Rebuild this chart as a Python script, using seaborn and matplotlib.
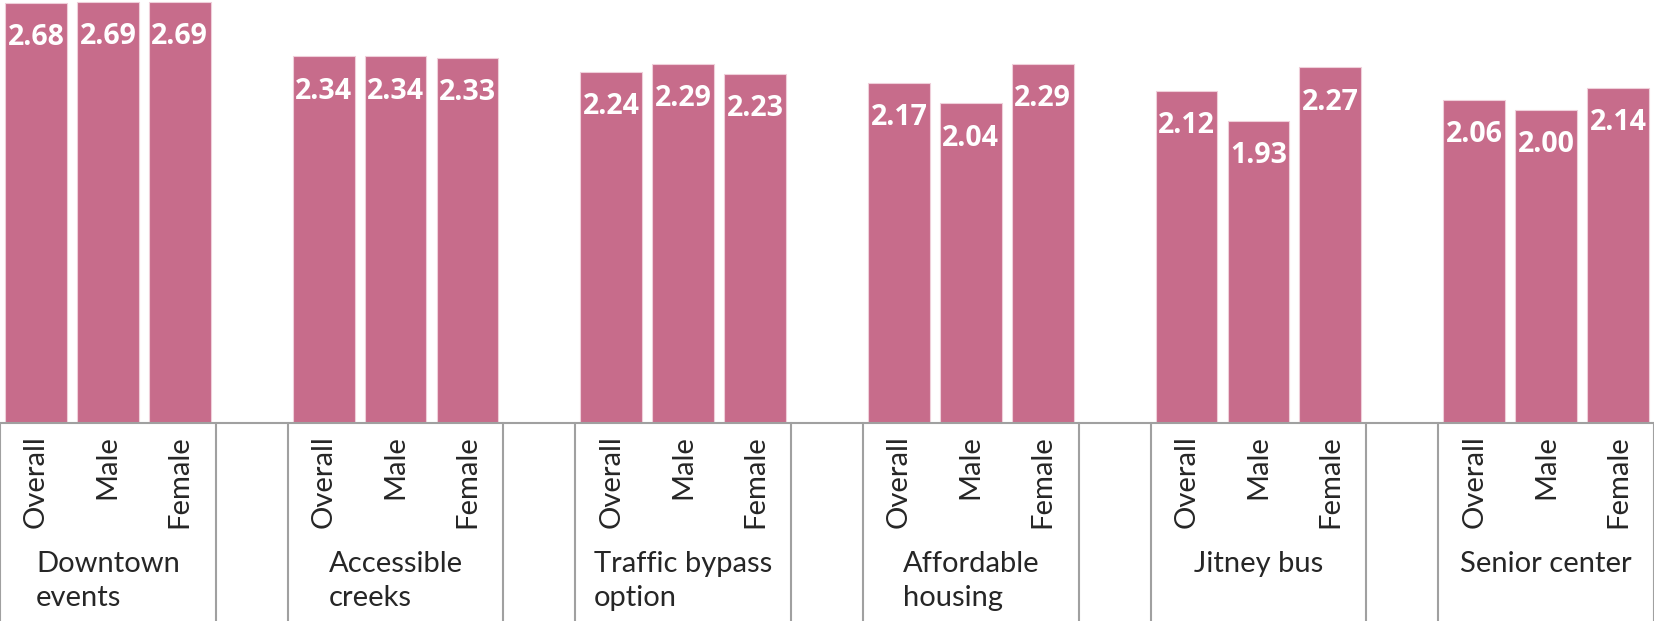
import matplotlib
matplotlib.use("Agg")
import matplotlib.pyplot as plt
import matplotlib.transforms as mtransforms
import seaborn as sns
import pandas as pd

# Chart data
groups = ["Downtown\nevents", "Accessible\ncreeks", "Traffic bypass\noption",
          "Affordable\nhousing", "Jitney bus", "Senior center"]
subgroups = ["Overall", "Male", "Female"]
overall = [2.68, 2.34, 2.24, 2.17, 2.12, 2.06]
male = [2.69, 2.34, 2.29, 2.04, 1.93, 2.00]
female = [2.69, 2.33, 2.23, 2.29, 2.27, 2.14]

bar_color = "#C76C8B"
line_color = "#A0A0A0"

# Long-form table; an empty slot between groups gives the gap
rows = []
order = []
for i, g in enumerate(groups):
    for s, vals in zip(subgroups, [overall, male, female]):
        key = f"{i}-{s}"
        rows.append({"slot": key, "score": vals[i]})
        order.append(key)
    if i < len(groups) - 1:
        order.append(f"{i}-gap")
df = pd.DataFrame(rows)

sns.set_style("white")
plt.rcParams["font.family"] = ["Lato", "DejaVu Sans"]

fig = plt.figure(figsize=(16.54, 6.21), dpi=100)
ax_h = 423 / 621
ax = fig.add_axes([0, 1 - ax_h, 1, ax_h])

sns.barplot(data=df, x="slot", y="score", order=order, color=bar_color,
            saturation=1, width=0.86, errorbar=None,
            edgecolor="#EFCFDA", linewidth=0.8, ax=ax)

# White value labels inside the top of each bar
for c in ax.containers:
    labels = ax.bar_label(c, fmt="%.2f", padding=-25, color="white",
                          fontsize=20.5, fontweight="bold",
                          family=["Open Sans", "DejaVu Sans"])
    for t in labels:
        t.set_va("center")

ax.set_xlim(-0.5, len(order) - 0.5)
ax.set_ylim(0, 2.70)
ax.set_yticks([])
ax.set_xlabel("")
ax.set_ylabel("")
ax.set_xticks(range(len(order)))
ax.set_xticklabels(["" if o.endswith("gap") else o.split("-")[1] for o in order],
                   rotation=90, fontsize=21)
ax.tick_params(axis="x", length=0, pad=9)

for side in ["top", "left", "right"]:
    ax.spines[side].set_visible(False)
ax.spines["bottom"].set_color(line_color)
ax.spines["bottom"].set_linewidth(1.5)

# Multi-level category axis: boxes and group names
drop = (621 - 423) / 423
trans = mtransforms.blended_transform_factory(ax.transData, ax.transAxes)
for i, g in enumerate(groups):
    start = 4 * i - 0.5
    end = 4 * i + 2.5
    for x in (start, end):
        ax.axvline(x, ymin=-drop, ymax=0, clip_on=False, color=line_color, lw=1.5)
    ax.text(4 * i + 1, -0.302, g, transform=trans, ha="center", va="top",
            multialignment="left", fontsize=21, linespacing=1.4)

fig.savefig("out.png", dpi=100)
